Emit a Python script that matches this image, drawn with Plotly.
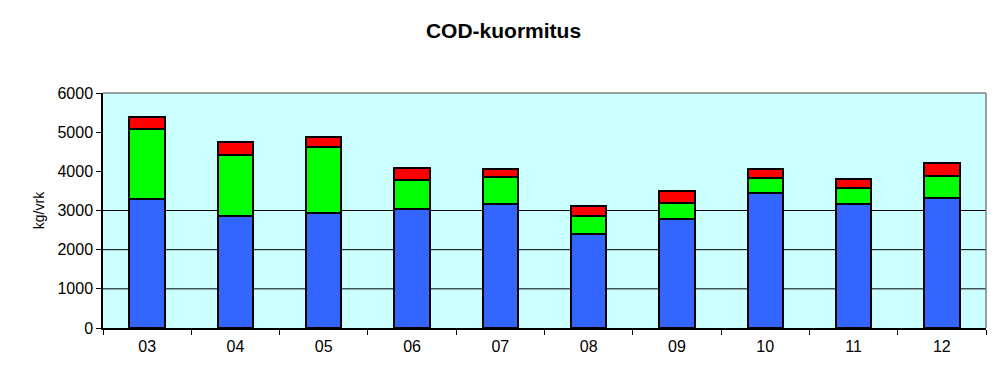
import plotly.graph_objects as go

categories = ["03", "04", "05", "06", "07", "08", "09", "10", "11", "12"]
blue_vals = [3286, 2868, 2945, 3038, 3175, 2407, 2791, 3457, 3175, 3329]
green_vals = [1801, 1553, 1664, 743, 683, 452, 410, 375, 393, 563]
red_vals = [290, 316, 256, 316, 213, 265, 298, 239, 239, 333]
grid_levels = [1000, 2000, 3000]
y_ticks = [0, 1000, 2000, 3000, 4000, 5000, 6000]

fig = go.Figure()
for vals, col in [(blue_vals, "#3366FF"), (green_vals, "#00FF00"), (red_vals, "#FF0000")]:
    fig.add_trace(go.Bar(x=categories, y=vals, marker=dict(color=col, line=dict(color="black", width=2)),
                         width=0.4, showlegend=False, hoverinfo="y"))

shapes = []
for g in grid_levels:
    shapes.append(dict(type="line", xref="paper", yref="y", x0=0, x1=1, y0=g, y1=g,
                       line=dict(color="black", width=1), layer="below"))
shapes.append(dict(type="line", xref="paper", yref="paper", x0=0, x1=1, y0=1, y1=1,
                   line=dict(color="#808080", width=1.5)))
shapes.append(dict(type="line", xref="paper", yref="paper", x0=1, x1=1, y0=0, y1=1,
                   line=dict(color="#808080", width=1.5)))

fig.update_layout(
    barmode="stack",
    width=1007, height=388,
    margin=dict(l=103, r=21, t=93, b=60),
    paper_bgcolor="white",
    plot_bgcolor="#CCFFFF",
    title=dict(text="<b>COD-kuormitus</b>", x=0.5, xanchor="center", y=1 - 31 / 388, yanchor="middle",
               font=dict(family="Liberation Sans, Arial", size=21, color="black")),
    font=dict(family="Liberation Sans, Arial", size=16, color="black"),
    shapes=shapes,
    xaxis=dict(type="category", tickson="boundaries", ticks="outside", ticklen=5, tickcolor="black",
               showline=True, linecolor="black", linewidth=1.5, showgrid=False,
               tickfont=dict(size=16), ticklabelstandoff=3),
    yaxis=dict(range=[0, 6000], tickvals=y_ticks, ticks="outside", ticklen=5, tickcolor="black",
               showline=True, linecolor="black", linewidth=1.5, showgrid=False, zeroline=False,
               tickfont=dict(size=16),
               title=dict(text="kg/vrk", font=dict(size=14), standoff=10)),
)

fig.write_html("out.html", post_script="document.body.style.margin='0';",
               config={"displayModeBar": False})
